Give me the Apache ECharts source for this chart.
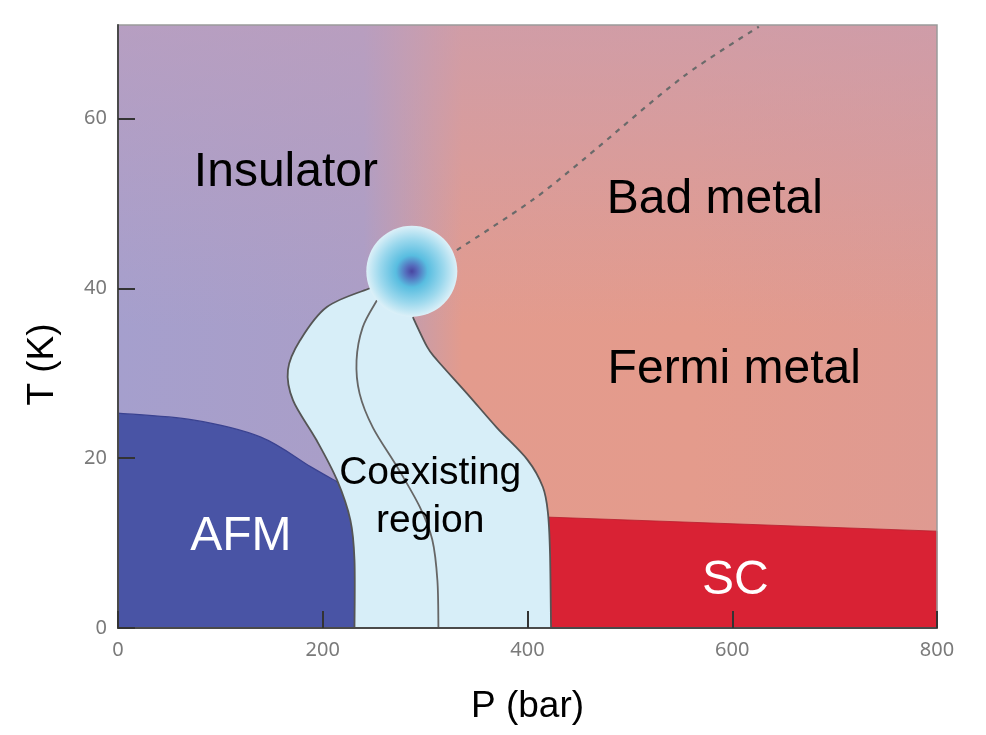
<!DOCTYPE html>
<html><head><meta charset="utf-8">
<script src="https://cdn.jsdelivr.net/npm/echarts@6/dist/echarts.min.js"></script>
<style>html,body{margin:0;padding:0;background:#fff}#c{width:986px;height:735px}</style>
</head><body><div id="c"></div>
<script>
// ---- data (P in bar, T in K) ----
const xTicks = [0, 200, 400, 600, 800];
const yTicks = [0, 20, 40, 60];
const pMax = 800;
const tMax = 71;
const afmBoundary = [[0,25.3],[73,24.5],[139,22.5],[188,19.0],[214,17.2]];
const coexLeft = [[246,40.0],[204,37.8],[178,33.9],[166,30.4],[171,26.8],[194,22.1],[214,17.4],[227,12.7],[231,8.0],[231,0]];
const coexRight = [[288,36.6],[302,33.1],[312,31.5],[341,27.6],[370,23.6],[400,19.8],[415,16.6],[420,13.5],[422,8.8],[423,0]];
const coexMiddle = [[253,38.6],[239,35.4],[233,31.5],[236,27.6],[249,23.6],[273,18.9],[295,14.2],[307,10.4],[312,5.6],[313,0]];
const scTop = [[410,13.1],[800,11.4]];
const crossover = [[331,44.5],[405,50.4],[454,55.1],[552,64.9],[626,70.8]];
const criticalPoint = [287, 42.0];
const regionNames = ['Insulator', 'Bad metal', 'Fermi metal', 'AFM', 'SC', 'Coexisting\nregion'];
const regionP = [164, 583, 602, 120, 603, 305];
const regionT = [53.6, 50.4, 30.4, 10.7, 5.6, 15.4];

// ---- helpers ----
function crSegments(px, start) {
  let d = (start ? 'M' : 'L') + px[0][0] + ' ' + px[0][1];
  for (let i = 0; i < px.length - 1; i++) {
    const p0 = px[i - 1] || px[i], p1 = px[i], p2 = px[i + 1], p3 = px[i + 2] || px[i + 1];
    const c1 = [p1[0] + (p2[0] - p0[0]) / 6, p1[1] + (p2[1] - p0[1]) / 6];
    const c2 = [p2[0] - (p3[0] - p1[0]) / 6, p2[1] - (p3[1] - p1[1]) / 6];
    d += 'C' + c1[0] + ' ' + c1[1] + ' ' + c2[0] + ' ' + c2[1] + ' ' + p2[0] + ' ' + p2[1];
  }
  return d;
}
function toPx(api, arr) { return arr.map(p => api.coord(p)); }
function L(api, p) { const c = api.coord(p); return 'L' + c[0] + ' ' + c[1]; }

const chart = echarts.init(document.getElementById('c'));
const labelFont = 'Liberation Sans, Arial, sans-serif';
const tickFont = 'Noto Sans, DejaVu Sans, sans-serif';

const option = {
  animation: false,
  grid: { left: 118, right: 49, top: 25, bottom: 107, show: true, borderColor: '#9a9a9a', borderWidth: 1.5, z: 6 },
  xAxis: {
    type: 'value', min: 0, max: pMax, interval: 200, z: 8,
    name: 'P (bar)', nameLocation: 'middle', nameGap: 60,
    nameTextStyle: { fontFamily: labelFont, fontSize: 37, color: '#000' },
    axisLine: { show: true, lineStyle: { color: '#4a4a4a', width: 2 } },
    axisTick: { show: true, inside: true, length: 17, lineStyle: { color: '#333', width: 2 } },
    axisLabel: { margin: 12, fontSize: 20, color: '#7a7a7a', fontFamily: tickFont,
      formatter: v => xTicks.includes(v) ? String(v) : '' },
    splitLine: { show: false }
  },
  yAxis: {
    type: 'value', min: 0, max: tMax, interval: 20, z: 8,
    name: 'T (K)', nameLocation: 'middle', nameGap: 57, nameRotate: 90,
    nameTextStyle: { fontFamily: labelFont, fontSize: 37, color: '#000', padding: [0, 76, 0, 0] },
    axisLine: { show: true, lineStyle: { color: '#4a4a4a', width: 2 } },
    axisTick: { show: true, inside: true, length: 17, lineStyle: { color: '#333', width: 2 } },
    axisLabel: { margin: 11, fontSize: 20, color: '#7a7a7a', fontFamily: tickFont,
      showMaxLabel: false, formatter: v => yTicks.includes(v) ? String(v) : '' },
    splitLine: { show: false }
  },
  series: [
    {
      type: 'custom', z: 1, silent: true, data: [[0, 0]],
      renderItem: function (params, api) {
        const tl = api.coord([0, tMax]), br = api.coord([pMax, 0]);
        const shape = { x: tl[0], y: tl[1], width: br[0] - tl[0], height: br[1] - tl[1] };
        let afm = 'M' + api.coord([0, 0]).join(' ') + L(api, afmBoundary[0]);
        afm += crSegments(toPx(api, afmBoundary), false).replace(/^L[^C]*/, '');
        afm += L(api, [260, 17.2]) + L(api, [260, 0]) + 'Z';
        const afmLine = crSegments(toPx(api, afmBoundary), true);
        const sc = 'M' + api.coord(scTop[0]).join(' ') + L(api, scTop[1]) + L(api, [scTop[1][0], 0]) + L(api, [scTop[0][0], 0]) + 'Z';
        const rightUp = coexRight.slice().reverse();
        const coex = crSegments(toPx(api, coexLeft), true) + crSegments(toPx(api, rightUp), false) + L(api, criticalPoint) + 'Z';
        return {
          type: 'group',
          children: [
            { type: 'rect', shape: shape, style: { fill: { type: 'linear', x: 0, y: 0, x2: 1, y2: 0, colorStops: [
              { offset: 0, color: '#a59fcd' }, { offset: 0.3, color: '#aa9ec7' }, { offset: 0.42, color: '#e39b8d' },
              { offset: 0.7, color: '#e49b8c' }, { offset: 1, color: '#df9a91' }] } } },
            { type: 'rect', shape: shape, style: { fill: { type: 'linear', x: 0, y: 0, x2: 0, y2: 1, colorStops: [
              { offset: 0, color: 'rgba(195,158,185,0.58)' }, { offset: 0.5, color: 'rgba(195,158,185,0)' },
              { offset: 1, color: 'rgba(195,158,185,0)' }] } } },
            { type: 'path', shape: { pathData: afm }, style: { fill: '#4954a5' } },
            { type: 'path', shape: { pathData: afmLine }, style: { fill: null, stroke: '#3a4290', lineWidth: 1.2 } },
            { type: 'path', shape: { pathData: sc }, style: { fill: '#d92234', stroke: '#b81c2c', lineWidth: 0.8 } },
            { type: 'path', shape: { pathData: coex }, style: { fill: '#d7eef8' } },
            { type: 'path', shape: { pathData: crSegments(toPx(api, coexLeft), true) }, style: { fill: null, stroke: '#555', lineWidth: 1.8 } },
            { type: 'path', shape: { pathData: crSegments(toPx(api, coexRight), true) }, style: { fill: null, stroke: '#555', lineWidth: 1.8 } },
            { type: 'path', shape: { pathData: crSegments(toPx(api, coexMiddle), true) }, style: { fill: null, stroke: '#666', lineWidth: 1.8 } }
          ]
        };
      }
    },
    {
      type: 'line', z: 3, silent: true, data: crossover, smooth: 0.3, symbol: 'none',
      lineStyle: { color: '#6a6a6a', width: 2.2, type: [5, 6] }
    },
    {
      type: 'scatter', z: 4, silent: true, data: [criticalPoint], symbol: 'circle', symbolSize: 91,
      itemStyle: { opacity: 1, color: { type: 'radial', x: 0.5, y: 0.5, r: 0.5, colorStops: [
        { offset: 0, color: '#4845a0' }, { offset: 0.12, color: '#5468ba' }, { offset: 0.35, color: '#58bde0' },
        { offset: 0.7, color: '#9bd8ed' }, { offset: 1, color: '#dcf0f8' }] } }
    },
    {
      type: 'custom', z: 5, silent: true,
      data: regionNames.map((n, i) => [regionP[i], regionT[i]]),
      renderItem: function (params, api) {
        const i = params.dataIndex;
        const n = regionNames[i];
        const c = api.coord([api.value(0), api.value(1)]);
        const white = (n === 'AFM' || n === 'SC');
        const coexText = n.indexOf('\n') >= 0;
        return {
          type: 'text', x: c[0], y: c[1],
          style: {
            text: n, fill: white ? '#ffffff' : '#000000',
            fontFamily: labelFont, fontSize: coexText ? 39 : 48, lineHeight: coexText ? 48 : 56,
            align: 'center', verticalAlign: 'middle', opacity: 1
          }
        };
      }
    }
  ]
};
chart.setOption(option);
</script>
</body></html>
